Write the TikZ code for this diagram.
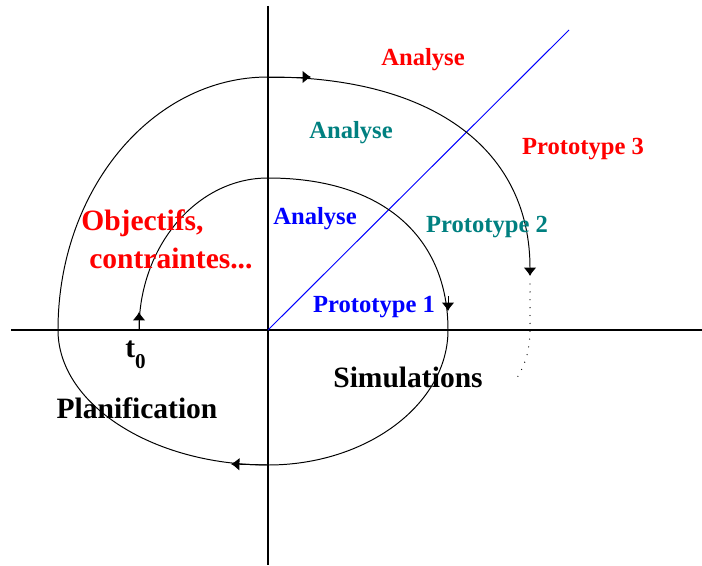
\documentclass[tikz,border=0pt]{standalone}
\usepackage{fontspec}
\setmainfont{Liberation Serif}
\usetikzlibrary{arrows.meta}
\definecolor{tealtxt}{RGB}{0,128,128}

\begin{document}
\begin{tikzpicture}[
            x=0.025cm, y=-0.025cm,
            axis/.style={line width=1pt, black},
            spiral/.style={line width=0.7pt, black},
            tip/.style={-{Latex[length=6pt, width=9pt]}},
            dottail/.style={line width=0.9pt, line cap=round, dash pattern=on 0pt off 5.6pt},
            lbl/.style={font=\bfseries\fontsize{17.5}{20}\selectfont, inner sep=0pt, anchor=base},
            biglbl/.style={font=\bfseries\fontsize{21}{24}\selectfont, inner sep=0pt}
        ]
        \useasboundingbox (0,0) rectangle (702,565);
        % --- axes ---
        \coordinate (O) at (268,330);
        \coordinate (Ntop) at (268,6);
        \coordinate (Sbot) at (268,565);
        \coordinate (West) at (11,330);
        \coordinate (East) at (702,330);
        \coordinate (Diag) at (569,30);
        \draw[axis] (Ntop)--(Sbot);
        \draw[axis] (West)--(East);
        \draw[blue, line width=0.7pt] (O)--(Diag);
        % --- spiral ---
        \coordinate (S0) at (139,330);
        \coordinate (T1) at (268,178);
        \coordinate (R1) at (448,330);
        \coordinate (Bm) at (268,465);
        \coordinate (L2) at (58,330);
        \coordinate (T2) at (268,77);
        \coordinate (A5) at (530,276);
        \draw[spiral, tip] (S0) .. controls (139,246) and (197,178) .. (T1)
            .. controls (385,178) and (448,239) .. (R1)
            .. controls (448,404) and (367,465) .. (Bm)
            .. controls (152,465) and (58,404) .. (L2)
            .. controls (58,190) and (152,77) .. (T2)
            .. controls (438,77) and (530,153) .. (A5);
        % arrow marks along the spiral
        \coordinate (A1) at (139,312);
        \coordinate (A2a) at (448,296);
        \coordinate (A2) at (448,311);
        \coordinate (B1) at (231,464);
        \coordinate (A4) at (311,77);
        \draw[spiral, tip] (S0)--(A1);
        \draw[spiral, tip] (A2a)--(A2);
        \draw[spiral, tip] (Bm)--(B1);
        \draw[spiral, tip] (T2)--(A4);
        % --- dotted continuation ---
        \coordinate (D1) at (530,284);
        \coordinate (D2) at (530,330);
        \coordinate (D3) at (517,378);
        \draw[dottail] (D1)--(D2) .. controls (530,350) and (525,365) .. (D3);
        % --- labels ---
        \node[lbl, red] (an3) at (423,66) {Analyse};
        \node[lbl, tealtxt] (an2) at (351,138) {Analyse};
        \node[lbl, blue] (an1) at (315,224) {Analyse};
        \node[lbl, red] (pr3) at (583,154) {Prototype 3};
        \node[lbl, tealtxt] (pr2) at (487,232) {Prototype 2};
        \node[lbl, blue] (pr1) at (374,312) {Prototype 1};
        \node[biglbl, red, anchor=base west] (obj) at (81,230) {Objectifs,};
        \node[biglbl, red, anchor=base west] (ctr) at (89,268) {contraintes...};
        \node[biglbl, anchor=base] (sim) at (408,387) {Simulations};
        \node[biglbl, anchor=base] (plan) at (137,418) {Planification};
        \node[biglbl, anchor=base west] (t0) at (125,357) {t\raisebox{-8.5pt}{\fontsize{15}{15}\selectfont 0}};
        \end{tikzpicture}
\end{document}
